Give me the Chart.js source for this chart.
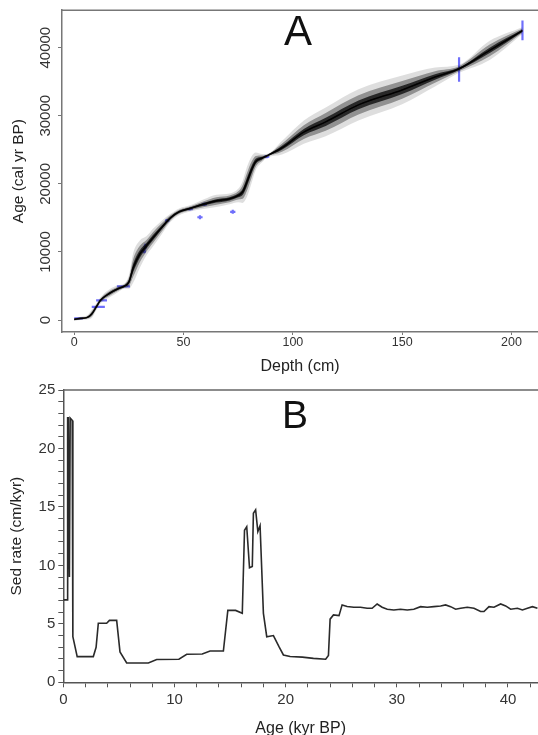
<!DOCTYPE html>
<html>
<head>
<meta charset="utf-8">
<script src="https://cdn.jsdelivr.net/npm/chart.js@4.4.1/dist/chart.umd.min.js"></script>
<style>
  html, body { margin: 0; padding: 0; background: #fff; width: 538px; height: 735px; overflow: hidden; }
  .panel { position: absolute; left: 0; }
  #wrapA { top: 0; }
  #wrapB { top: 360px; }
</style>
</head>
<body>
<div class="panel" id="wrapA"><canvas id="chartA" width="538" height="375"></canvas></div>
<div class="panel" id="wrapB"><canvas id="chartB" width="538" height="375"></canvas></div>
<script>
// ─── PANEL A: age-depth model ───
const depthA = [0, 3, 6, 8, 10, 12, 16, 20, 23, 25, 27, 30, 33, 36, 40, 44, 48, 53, 59, 65,
                71, 75, 77, 79, 81, 83, 86, 88, 95, 105, 115, 130, 150, 165, 176, 190, 205];
const ageMedA = [100, 250, 400, 900, 1900, 2900, 3900, 4600, 5000, 5600, 7700, 9700, 10900, 12100, 13600, 15000, 15900, 16400, 17000, 17500,
                 17800, 18300, 18800, 20300, 22000, 23300, 23800, 24100, 25300, 27600, 29100, 31600, 33800, 35700, 36900, 39600, 42500];
// half widths of the grey envelope (yr), faint / medium / dark
const outerSpread = [200, 250, 300, 600, 500, 450, 600, 500, 400, 1000, 2200, 2000, 1400, 1300, 1000, 600, 500, 450, 700, 900,
                     800, 1000, 1600, 2200, 2000, 1300, 600, 300, 1000, 1700, 2100, 2300, 2100, 1400, 600, 1400, 500];
const midSpread = [120, 150, 180, 350, 300, 280, 350, 300, 250, 600, 1300, 1200, 850, 800, 600, 380, 300, 280, 420, 550,
                   500, 600, 1000, 1300, 1200, 800, 380, 180, 600, 1000, 1300, 1400, 1300, 850, 380, 850, 300];
const coreSpread = [60, 70, 80, 160, 140, 130, 160, 140, 120, 280, 600, 550, 400, 380, 280, 180, 140, 130, 200, 250,
                    230, 280, 450, 600, 550, 380, 180, 90, 280, 450, 600, 650, 600, 400, 180, 400, 150];

// dated levels (blue marks)
const dateDepth = [2, 11, 12.5, 22.5, 32.5, 32, 42.5, 53, 57.5, 59.5, 72.5, 88, 176, 205];
const dateAge = [250, 1950, 2900, 4950, 10800, 10100, 14600, 16300, 15100, 17000, 15900, 24000, 36800, 42550];
const dateHalfDepth = [2, 3, 2.5, 3, 0.8, 0.8, 1, 1.2, 1.2, 1.2, 1.2, 1.2, 0.3, 0.3];
const dateHalfAge = [60, 60, 80, 80, 400, 300, 250, 200, 300, 250, 300, 250, 1800, 1450];

const depthTicks = [0, 50, 100, 150, 200];
const ageTicks = [0, 10000, 20000, 30000, 40000];

// ─── PANEL B: sedimentation rate ───
const ageB = [0, 0.36, 0.37, 0.41, 0.45, 0.55, 0.62, 0.80, 0.86, 1.25, 2.7, 2.95, 3.15, 3.9, 4.15, 4.8, 5.1, 5.7, 7.65, 8.4,
              10.4, 11.1, 12.5, 13.2, 14.4, 14.8, 15.5, 16.1, 16.3, 16.5, 16.75, 17.0, 17.1, 17.3, 17.5, 17.7, 18.0, 18.3, 18.9, 19.4,
              19.8, 20.4, 21.5, 22.5, 23.6, 23.85, 24.0, 24.3, 24.8, 25.08, 25.53, 26.13, 26.73, 27.33, 27.78, 28.23, 28.68, 29.14, 29.73, 30.33,
              30.94, 31.53, 32.14, 32.74, 33.33, 33.94, 34.39, 34.84, 35.29, 35.74, 36.34, 36.94, 37.54, 37.84, 38.29, 38.74, 39.34, 39.79, 40.24, 40.85,
              41.3, 41.75, 42.2, 42.65];
const rateB = [7.05, 7.05, 22.7, 7.5, 22.7, 9.0, 22.6, 22.4, 3.9, 2.2, 2.2, 3.0, 5.05, 5.05, 5.3, 5.3, 2.6, 1.65, 1.65, 1.95,
               1.97, 2.4, 2.42, 2.68, 2.68, 6.15, 6.15, 5.9, 13.0, 13.3, 9.8, 9.9, 14.45, 14.75, 12.9, 13.4, 5.9, 3.9, 4.0, 3.05,
               2.34, 2.2, 2.15, 2.05, 1.97, 2.3, 5.4, 5.76, 5.7, 6.62, 6.48, 6.42, 6.42, 6.33, 6.33, 6.70, 6.42, 6.25, 6.19, 6.25,
               6.19, 6.25, 6.47, 6.42, 6.47, 6.53, 6.62, 6.47, 6.25, 6.33, 6.42, 6.33, 6.05, 6.05, 6.47, 6.42, 6.70, 6.53, 6.25, 6.33,
               6.19, 6.33, 6.47, 6.33];

Chart.defaults.font.family = '"Liberation Sans", Arial, sans-serif';
Chart.defaults.color = '#222';

function band(spread, sign) {
  return depthA.map((d, i) => ({ x: d, y: ageMedA[i] + sign * spread[i] }));
}

function bandPair(spread, color) {
  const base = { borderWidth: 0, pointRadius: 0, cubicInterpolationMode: 'monotone' };
  return [
    Object.assign({ data: band(spread, 1), fill: '+1', backgroundColor: color }, base),
    Object.assign({ data: band(spread, -1), fill: false }, base)
  ];
}

function datePoints() {
  const pts = [];
  dateDepth.forEach((d, i) => {
    const a = dateAge[i];
    pts.push({ x: d - dateHalfDepth[i], y: a }, { x: d + dateHalfDepth[i], y: a }, { x: d, y: null });
    pts.push({ x: d, y: a - dateHalfAge[i] }, { x: d, y: a + dateHalfAge[i] }, { x: d, y: null });
  });
  return pts;
}

const decor = {
  id: 'decor',
  afterDraw(chart, args, o) {
    const { ctx, chartArea: a } = chart;
    ctx.save();
    ctx.strokeStyle = o.frame;
    ctx.lineWidth = 1.5;
    ctx.beginPath();
    ctx.moveTo(a.left, a.top);
    ctx.lineTo(a.right, a.top);
    ctx.stroke();
    ctx.fillStyle = '#111';
    ctx.font = o.letterFont;
    ctx.textAlign = 'center';
    ctx.textBaseline = 'alphabetic';
    ctx.fillText(o.letter, o.lx, o.ly);
    if (o.rotY) {
      const s = chart.scales.y;
      ctx.font = '15px "Liberation Sans", Arial, sans-serif';
      ctx.fillStyle = '#333';
      s.ticks.forEach(t => {
        const y = s.getPixelForValue(t.value);
        ctx.save();
        ctx.translate(o.rotY, y);
        ctx.rotate(-Math.PI / 2);
        ctx.textAlign = 'center';
        ctx.fillText(String(t.value), 0, 0);
        ctx.restore();
      });
    }
    ctx.restore();
  }
};

const common = {
  responsive: false,
  animation: false,
  events: [],
  plugins: { legend: { display: false }, tooltip: { enabled: false } }
};

new Chart(document.getElementById('chartA'), {
  type: 'line',
  data: {
    datasets: [
      ...bandPair(outerSpread, 'rgba(0,0,0,0.13)'),
      ...bandPair(midSpread, 'rgba(0,0,0,0.35)'),
      ...bandPair(coreSpread, 'rgba(0,0,0,0.72)'),
      { data: depthA.map((d, i) => ({ x: d, y: ageMedA[i] })), borderColor: '#111', borderWidth: 1.6, pointRadius: 0, fill: false, cubicInterpolationMode: 'monotone' },
      { data: depthA.map((d, i) => ({ x: d, y: ageMedA[i] })), borderColor: 'rgba(190,40,40,0.8)', borderWidth: 0.8, borderDash: [2, 2], pointRadius: 0, fill: false, cubicInterpolationMode: 'monotone' },
      { data: datePoints(), borderColor: 'rgba(50,50,250,0.7)', borderWidth: 2.2, pointRadius: 0, fill: false, spanGaps: false }
    ]
  },
  options: Object.assign({}, common, {
    layout: { padding: { top: 8, right: 0, left: 0, bottom: 0 } },
    plugins: Object.assign({}, common.plugins, {
      decor: { frame: '#777', letter: 'A', letterFont: '42px "Liberation Sans", Arial, sans-serif', lx: 298, ly: 45, rotY: 49.5 }
    }),
    scales: {
      x: {
        type: 'linear', min: -5.6, max: 212.1,
        afterFit: s => { s.height = 43; },
        afterBuildTicks: s => { s.ticks = depthTicks.map(v => ({ value: v })); },
        ticks: { font: { size: 12.5 }, color: '#333', padding: 0, autoSkip: false, maxRotation: 0 },
        grid: { drawOnChartArea: false, tickLength: 3, tickColor: '#777' },
        border: { color: '#777', width: 1.5 },
        title: { display: true, text: 'Depth (cm)', font: { size: 16, lineHeight: 0.75 }, color: '#222', padding: { top: 0, bottom: 2 } }
      },
      y: {
        type: 'linear', min: -1750, max: 45500,
        afterFit: s => { s.width = 62; },
        afterBuildTicks: s => { s.ticks = ageTicks.map(v => ({ value: v })); },
        ticks: { color: 'rgba(0,0,0,0)', autoSkip: false },
        grid: { drawOnChartArea: false, tickLength: 4, tickColor: '#777' },
        border: { color: '#777', width: 1.5 },
        title: { display: true, text: 'Age (cal yr BP)', font: { size: 15.5, lineHeight: 0.75 }, color: '#222', padding: { top: 12.5, bottom: 0 } }
      }
    }
  }),
  plugins: [decor]
});

new Chart(document.getElementById('chartB'), {
  type: 'line',
  data: {
    datasets: [
      { data: ageB.map((x, i) => ({ x: x, y: rateB[i] })), borderColor: '#2a2a2a', borderWidth: 1.6, pointRadius: 0, fill: false, tension: 0 }
    ]
  },
  options: Object.assign({}, common, {
    layout: { padding: { top: 30, right: 0, left: 0, bottom: 0 } },
    plugins: Object.assign({}, common.plugins, {
      decor: { frame: '#666', letter: 'B', letterFont: '39px "Liberation Sans", Arial, sans-serif', lx: 295, ly: 68.3 }
    }),
    scales: {
      x: {
        type: 'linear', min: 0, max: 42.7,
        afterFit: s => { s.height = 52.7; },
        ticks: { stepSize: 2, maxTicksLimit: 100, autoSkip: false, maxRotation: 0, includeBounds: false, font: { size: 15 }, color: '#333', padding: 4,
                 callback: v => (v % 10 === 0 ? String(v) : '') },
        grid: { drawOnChartArea: false, tickLength: 5, tickColor: '#555' },
        border: { color: '#555', width: 1.5 },
        title: { display: true, text: 'Age (kyr BP)', font: { size: 16, lineHeight: 0.75 }, color: '#222', padding: { top: 0, bottom: 0 } }
      },
      y: {
        type: 'linear', min: 0, max: 25,
        afterFit: s => { s.width = 63.3; },
        ticks: { stepSize: 1, maxTicksLimit: 100, autoSkip: false, font: { size: 15 }, color: '#333', padding: 3,
                 callback: v => (v % 5 === 0 ? String(v) : '') },
        grid: { drawOnChartArea: false, tickLength: 5, tickColor: '#555' },
        border: { color: '#555', width: 1.5 },
        title: { display: true, text: 'Sed rate (cm/kyr)', font: { size: 15.5, lineHeight: 0.75 }, color: '#222', padding: { top: 10.5, bottom: 0 } }
      }
    }
  }),
  plugins: [decor]
});
</script>
</body>
</html>
